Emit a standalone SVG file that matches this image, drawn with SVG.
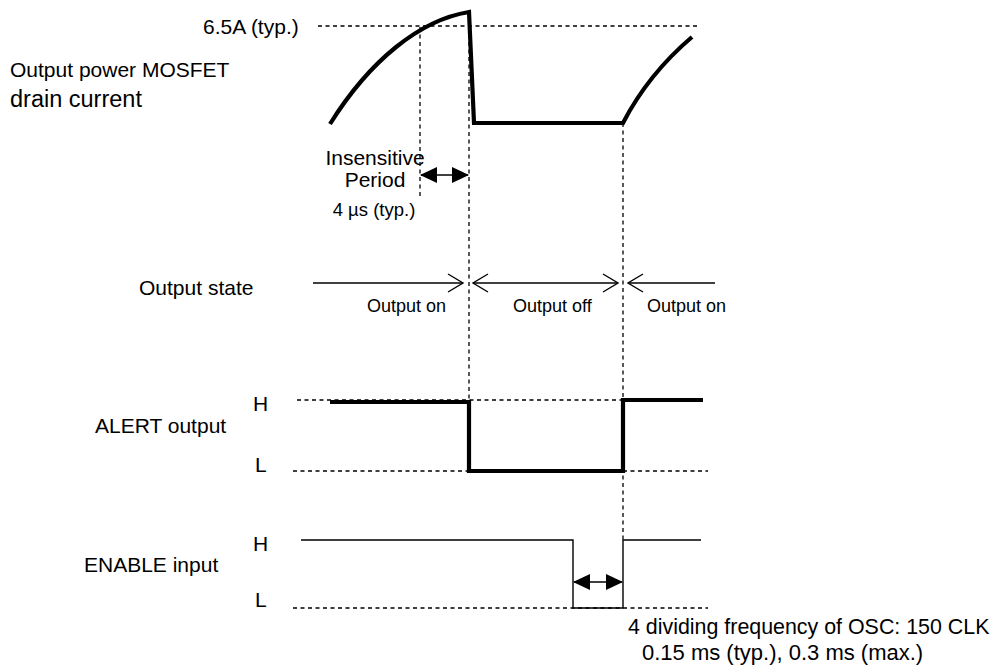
<svg xmlns="http://www.w3.org/2000/svg" width="994" height="668" viewBox="0 0 994 668">
<defs>
<style>
text{font-family:"Liberation Sans",Arial,sans-serif;fill:#000}
.dash{fill:none;stroke:#000;stroke-width:1.3;stroke-dasharray:4,3.5}
.thick{fill:none;stroke:#000;stroke-width:4.2;stroke-linejoin:miter}
.thin{fill:none;stroke:#000;stroke-width:1.4}
.big{font-size:21px}
.med{font-size:18px}
</style>
<marker id="fa" viewBox="0 0 17 16" refX="16" refY="8" markerWidth="17" markerHeight="16" markerUnits="userSpaceOnUse" orient="auto-start-reverse">
<path d="M0,0 L17,8 L0,16 Z" fill="#000"/>
</marker>
</defs>
<rect width="994" height="668" fill="#fff"/>

<g id="guides">
<line class="dash" x1="318" y1="26" x2="697" y2="26"/>
<line class="dash" x1="420" y1="27" x2="420" y2="197"/>
<line class="dash" x1="469" y1="12" x2="469" y2="471"/>
<line class="dash" x1="623" y1="123" x2="623" y2="540"/>
<line class="dash" x1="297" y1="400" x2="625" y2="400"/>
<line class="dash" x1="293" y1="471" x2="708" y2="471"/>
<line class="dash" x1="293" y1="608" x2="708" y2="608"/>
</g>

<g id="drain-current">
<text class="big" x="10" y="77">Output power MOSFET</text>
<text x="10" y="107" style="font-size:23.5px">drain current</text>
<text x="203" y="34" style="font-size:21px">6.5A (typ.)</text>
<path class="thick" d="M330,124 C370,60 420,20 469,12 L474,123 L623,123 C640,90 665,60 692,37"/>
</g>

<g id="insensitive">
<text class="big" x="375" y="165" text-anchor="middle">Insensitive</text>
<text class="big" x="375" y="187" text-anchor="middle">Period</text>
<text x="374" y="216" text-anchor="middle" style="font-size:18.5px">4 µs (typ.)</text>
</g>

<g id="output-state">
<text class="big" x="139" y="295">Output state</text>
<text class="med" x="367" y="312">Output on</text>
<text class="med" x="513" y="312">Output off</text>
<text class="med" x="647" y="312">Output on</text>
</g>

<g id="alert">
<text class="big" x="95" y="433">ALERT output</text>
<text class="big" x="253" y="411">H</text>
<text class="big" x="255" y="472">L</text>
<path class="thick" d="M330,402 L469,402 L469,471 L623,471 L623,400 L703,400"/>
</g>

<g id="enable">
<text class="big" x="84" y="572">ENABLE input</text>
<text class="big" x="253" y="551">H</text>
<text class="big" x="255" y="607">L</text>
<path class="thin" d="M301,540 L573,540 L573,608 L623,608 L623,540 L701,540"/>
<text x="628" y="634" style="font-size:21.4px">4 dividing frequency of OSC: 150 CLK</text>
<text x="642" y="660" style="font-size:22px">0.15 ms (typ.), 0.3 ms (max.)</text>
</g>

<g id="connectors">
<line class="thin" x1="313" y1="283" x2="462" y2="283"/>
<path class="thin" d="M448,274 L463,283 L448,292"/>
<line class="thin" x1="474" y1="283" x2="617" y2="283"/>
<path class="thin" d="M488,274 L473,283 L488,292"/>
<path class="thin" d="M603,274 L618,283 L603,292"/>
<line class="thin" x1="629" y1="283" x2="715" y2="283"/>
<path class="thin" d="M643,274 L628,283 L643,292"/>
<line x1="421" y1="175" x2="468" y2="175" stroke="#000" stroke-width="1.5" marker-start="url(#fa)" marker-end="url(#fa)"/>
<line x1="574" y1="582" x2="622" y2="582" stroke="#000" stroke-width="1.5" marker-start="url(#fa)" marker-end="url(#fa)"/>
</g>
</svg>
